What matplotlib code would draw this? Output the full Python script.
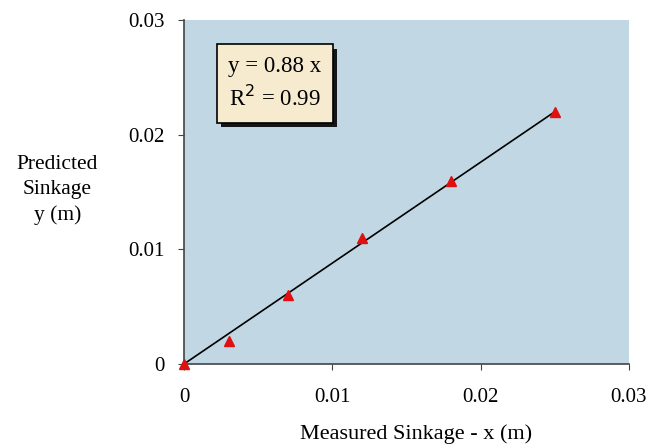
import numpy as np
import matplotlib.pyplot as plt
import matplotlib.patheffects as pe
from matplotlib.ticker import FixedLocator, FixedFormatter

# measured vs predicted sinkage (m)
measured = [0.0, 0.003, 0.007, 0.012, 0.018, 0.025]
predicted = [0.0, 0.002, 0.006, 0.011, 0.016, 0.022]
slope = 0.88
fit_x = [0.0, 0.025]
tick_vals = [0, 0.01, 0.02, 0.03]
tick_labels = ['0', '0.01', '0.02', '0.03']

plt.rcParams['font.family'] = ['Liberation Serif', 'DejaVu Serif']

fig = plt.figure(figsize=(6.66, 4.44), dpi=100)
ax = fig.add_axes([0.2763, 0.1802, 0.6681, 0.7748])
ax.set_facecolor('#c2d7e4')

ax.plot(fit_x, [slope*v for v in fit_x], color='black', lw=1.2, zorder=2)
ax.plot(measured, predicted, ls='none', marker='^', color='#e01010',
        markersize=6.5, zorder=3, clip_on=False)

ax.set_xlim(0, 0.03)
ax.set_ylim(0, 0.03)
for axis in (ax.xaxis, ax.yaxis):
    axis.set_major_locator(FixedLocator(tick_vals))
    axis.set_major_formatter(FixedFormatter(tick_labels))
ax.tick_params(labelsize=15, length=4, color='#444444')
ax.tick_params(axis='x', pad=13)
ax.tick_params(axis='y', pad=10)
ax.spines['top'].set_visible(False)
ax.spines['right'].set_visible(False)
for s in ('left', 'bottom'):
    ax.spines[s].set_color('#444444')
    ax.spines[s].set_linewidth(1.2)

# fit equation box with drop shadow
t = ax.text(0.00613, 0.02446, 'y = 0.88 x\nR$^2$ = 0.99', fontsize=16.5,
            ha='center', va='center', multialignment='center', linespacing=1.45,
            bbox=dict(boxstyle='square,pad=0.5', fc='#f6ebcf', ec='black', lw=1.2))
t.get_bbox_patch().set_path_effects([
    pe.SimplePatchShadow(offset=(3, -3), shadow_rgbFace='black', alpha=0.9),
    pe.Normal()])

fig.text(0.086, 0.572, 'Predicted\nSinkage\ny (m)', fontsize=15.5,
         ha='center', va='center', linespacing=1.4)
fig.text(0.625, 0.022, 'Measured Sinkage - x (m)', fontsize=16,
         ha='center', va='center')

plt.savefig('out.png', dpi=100)
